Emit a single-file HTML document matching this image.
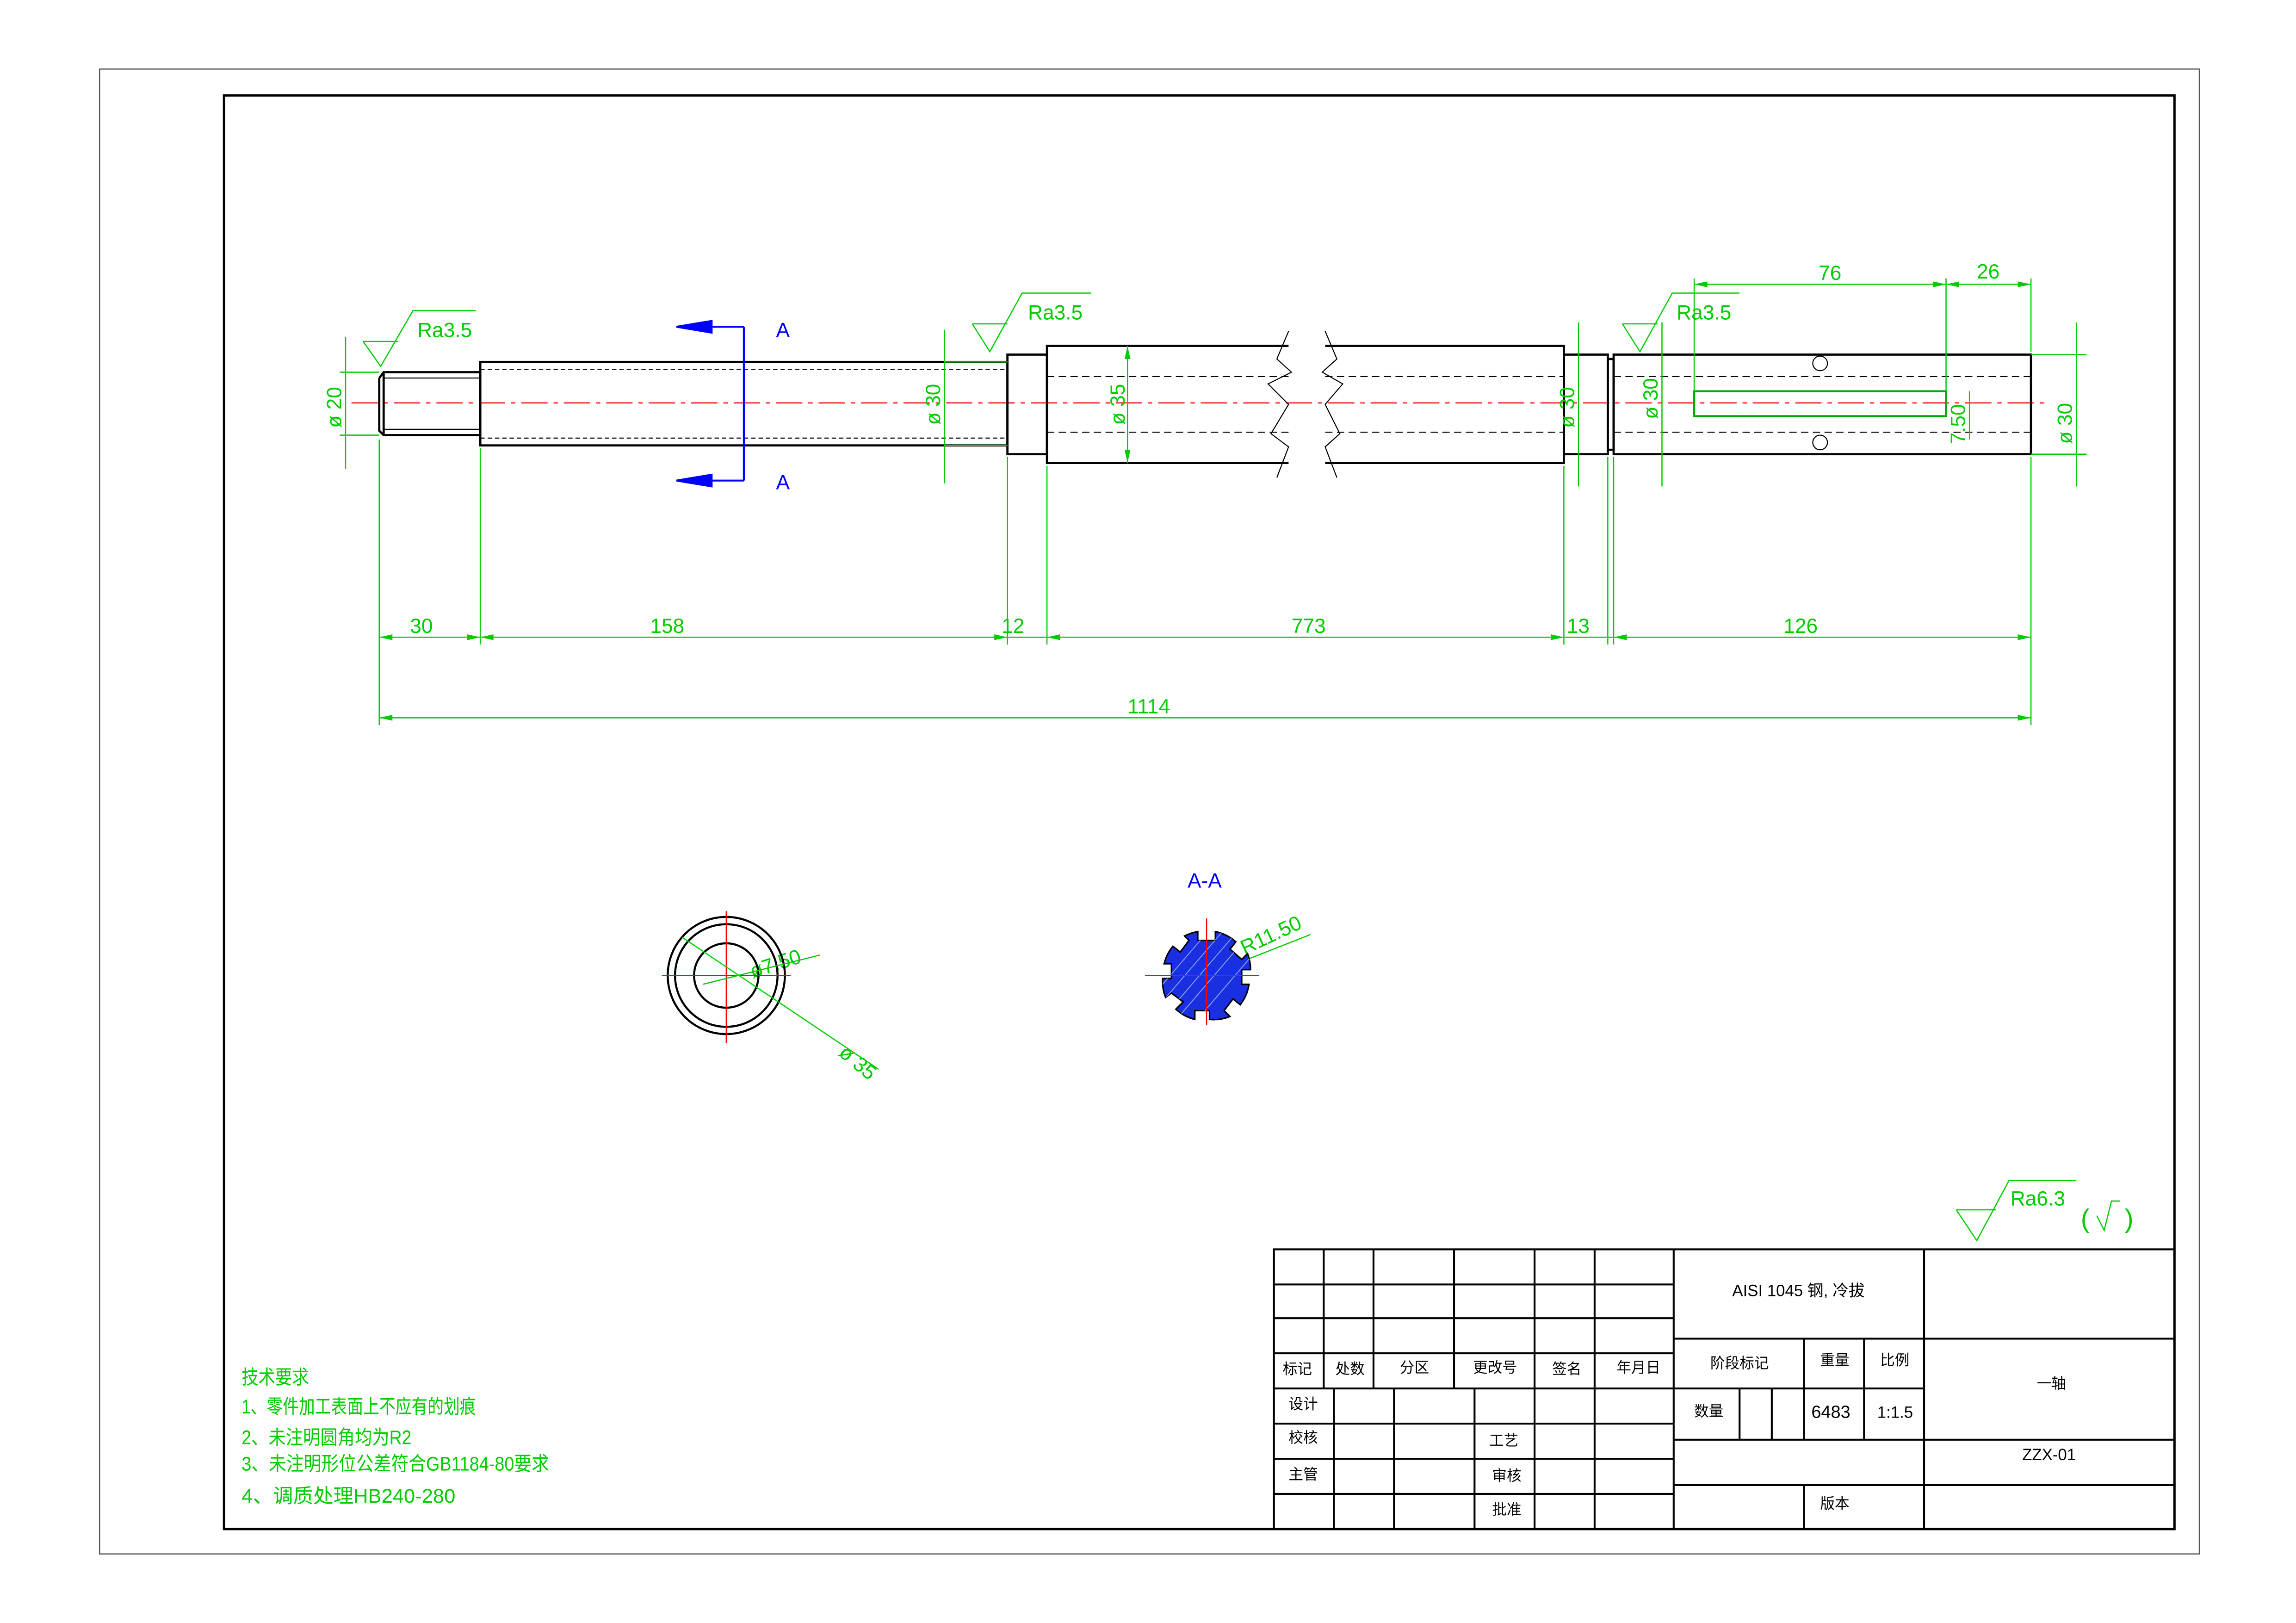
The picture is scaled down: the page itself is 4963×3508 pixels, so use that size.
<!DOCTYPE html>
<html><head><meta charset="utf-8"><style>
html,body{margin:0;padding:0;background:#fff}
svg{display:block}
text{font-family:"Liberation Sans","Noto Sans CJK SC",sans-serif}
</style></head><body>
<svg width="4963" height="3508" viewBox="0 0 1568 1108" xmlns="http://www.w3.org/2000/svg">
<rect x="68" y="47" width="1434" height="1014" fill="none" stroke="#555" stroke-width="0.8"/>
<rect x="153" y="65" width="1332" height="979" fill="none" stroke="#000" stroke-width="1.6"/>

<line x1="240" y1="275" x2="1400" y2="275" stroke="#f00" stroke-width="0.8" stroke-dasharray="18,4,3,4"/>

<g fill="none" stroke="#000" stroke-width="1.5">
<path d="M259,258 L262,254 L328,254 M259,258 L259,294 L262,297 L328,297"/>
<line x1="262" y1="254" x2="262" y2="297"/>
<rect x="328" y="247" width="360" height="57"/>
<rect x="688" y="242" width="27" height="68"/>
<path d="M880,236 L715,236 L715,316 L880,316"/>
<path d="M905,236 L1068,236 L1068,316 L905,316"/>
<rect x="1068" y="242" width="30" height="68"/>
<rect x="1098" y="245" width="4" height="62"/>
<rect x="1102" y="242" width="285" height="68"/>
</g>
<g fill="none" stroke="#000" stroke-width="0.7">
<line x1="262" y1="258" x2="328" y2="258"/><line x1="262" y1="293" x2="328" y2="293"/>
<line x1="328" y1="252" x2="688" y2="252" stroke-dasharray="3,2"/>
<line x1="328" y1="299" x2="688" y2="299" stroke-dasharray="3,2"/>
<line x1="715" y1="257" x2="880" y2="257" stroke-dasharray="5,3"/>
<line x1="715" y1="295" x2="880" y2="295" stroke-dasharray="5,3"/>
<line x1="905" y1="257" x2="1068" y2="257" stroke-dasharray="5,3"/>
<line x1="905" y1="295" x2="1068" y2="295" stroke-dasharray="5,3"/>
<line x1="1102" y1="257" x2="1387" y2="257" stroke-dasharray="5,3"/>
<line x1="1102" y1="295" x2="1387" y2="295" stroke-dasharray="5,3"/>
<path d="M880,226 L872,245 L882,254 L866,262 L880,276 L868,296 L880,305 L872,326"/>
<path d="M905,226 L913,245 L903,254 L917,262 L905,276 L915,296 L905,305 L913,326"/>
<circle cx="1243" cy="248" r="5"/><circle cx="1243" cy="302" r="5"/>
</g>
<rect x="1157" y="267" width="172" height="17" fill="none" stroke="#0a0" stroke-width="1.3"/>

<g stroke="#00f" stroke-width="1.3" fill="#00f">
<line x1="508" y1="223" x2="508" y2="328"/>
<line x1="470" y1="223" x2="508" y2="223"/><line x1="470" y1="328" x2="508" y2="328"/>
<polygon points="462,223 486,219 486,227"/><polygon points="462,328 486,324 486,332"/>
</g>
<g fill="#00f" font-size="14"><text x="530" y="230">A</text><text x="530" y="334">A</text><text x="811" y="606">A-A</text></g>

<g stroke="#0c0" stroke-width="0.8" fill="none">
<line x1="259" y1="300" x2="259" y2="495"/><line x1="328" y1="306" x2="328" y2="440"/>
<line x1="688" y1="312" x2="688" y2="440"/><line x1="715" y1="318" x2="715" y2="440"/>
<line x1="1068" y1="318" x2="1068" y2="440"/><line x1="1098" y1="312" x2="1098" y2="440"/>
<line x1="1102" y1="312" x2="1102" y2="440"/><line x1="1387" y1="312" x2="1387" y2="495"/>
<line x1="259" y1="435" x2="1387" y2="435"/>
<line x1="259" y1="490" x2="1387" y2="490"/>
<line x1="1157" y1="190" x2="1157" y2="267"/><line x1="1329" y1="190" x2="1329" y2="267"/>
<line x1="1387" y1="190" x2="1387" y2="240"/>
<line x1="1157" y1="194" x2="1387" y2="194"/>
<line x1="232" y1="254" x2="259" y2="254"/><line x1="232" y1="297" x2="259" y2="297"/>
<line x1="236" y1="230" x2="236" y2="320"/>
<line x1="645" y1="247" x2="688" y2="247"/><line x1="645" y1="304" x2="688" y2="304"/>
<line x1="645" y1="225" x2="645" y2="330"/>
<line x1="770" y1="236" x2="770" y2="316"/>
<line x1="1078" y1="220" x2="1078" y2="332"/>
<line x1="1135" y1="220" x2="1135" y2="332"/>
<line x1="1345" y1="267" x2="1345" y2="300"/>
<line x1="1387" y1="242" x2="1425" y2="242"/><line x1="1387" y1="310" x2="1425" y2="310"/>
<line x1="1418" y1="220" x2="1418" y2="332"/>
<path d="M248,233 L260,250 L282,212 L325,212"/><line x1="248" y1="233" x2="272" y2="233"/>
<path d="M664,221 L676,240 L698,200 L745,200"/><line x1="664" y1="221" x2="688" y2="221"/>
<path d="M1108,221 L1120,240 L1142,200 L1188,200"/><line x1="1108" y1="221" x2="1132" y2="221"/>
<path d="M1336,826 L1350,847 L1372,806 L1418,806"/><line x1="1336" y1="826" x2="1363" y2="826"/>
<path d="M1432,830 L1437,840 L1442,820 L1448,820"/>
</g>
<g fill="#0c0">
<polygon points="259,435 268,433 268,437"/><polygon points="328,435 319,433 319,437"/><polygon points="328,435 337,433 337,437"/>
<polygon points="688,435 679,433 679,437"/><polygon points="715,435 724,433 724,437"/><polygon points="1068,435 1059,433 1059,437"/>
<polygon points="1102,435 1111,433 1111,437"/><polygon points="1387,435 1378,433 1378,437"/>
<polygon points="259,490 268,488 268,492"/><polygon points="1387,490 1378,488 1378,492"/>
<polygon points="1157,194 1166,192 1166,196"/><polygon points="1329,194 1320,192 1320,196"/>
<polygon points="1329,194 1338,192 1338,196"/><polygon points="1387,194 1378,192 1378,196"/>
<polygon points="770,236 768,245 772,245"/><polygon points="770,316 768,307 772,307"/>
</g>
<g fill="#0c0" font-size="14">
<text x="280" y="432">30</text><text x="444" y="432">158</text><text x="684" y="432">12</text>
<text x="882" y="432">773</text><text x="1070" y="432">13</text><text x="1218" y="432">126</text>
<text x="770" y="487">1114</text><text x="1242" y="191">76</text><text x="1350" y="190">26</text>
<text x="285" y="230">Ra3.5</text><text x="702" y="218">Ra3.5</text><text x="1145" y="218">Ra3.5</text>
<text x="1373" y="823">Ra6.3</text><text x="1421" y="838" font-size="18">(</text><text x="1451" y="838" font-size="18">)</text>
<text transform="translate(233,292) rotate(-90)">ø 20</text>
<text transform="translate(642,290) rotate(-90)">ø 30</text>
<text transform="translate(768,290) rotate(-90)">ø 35</text>
<text transform="translate(1075,292) rotate(-90)">ø 30</text>
<text transform="translate(1132,286) rotate(-90)">ø 30</text>
<text transform="translate(1342,303) rotate(-90)">7.50</text>
<text transform="translate(1415,303) rotate(-90)">ø 30</text>
<text transform="translate(514,668) rotate(-18)">ø7.50</text>
<text transform="translate(572,720) rotate(40)">ø 35</text>
<text transform="translate(850,652) rotate(-25)">R11.50</text>
</g>

<g fill="none" stroke="#000" stroke-width="1.4">
<circle cx="496" cy="666" r="40"/><circle cx="496" cy="666" r="35"/><circle cx="496" cy="666" r="22"/>
</g>
<g stroke="#f00" stroke-width="0.8"><line x1="452" y1="666" x2="540" y2="666"/><line x1="496" y1="622" x2="496" y2="712"/></g>
<g stroke="#0c0" stroke-width="0.8"><line x1="466" y1="640" x2="600" y2="730"/><line x1="480" y1="672" x2="560" y2="652"/><line x1="824" y1="666" x2="895" y2="638"/></g>

<clipPath id="ac"><path id="ap" d="M818,636 L818,642 L830,642 L830,636 A30,30 0 0 1 844,643 L840,648 L848,655 L852,651 A30,30 0 0 1 854,662 L848,662 L848,672 L853,672 A30,30 0 0 1 847,686 L842,682 L836,690 L840,694 A30,30 0 0 1 826,696 L826,690 L816,690 L816,696 A30,30 0 0 1 803,689 L808,684 L800,678 L796,681 A30,30 0 0 1 794,668 L800,668 L800,658 L795,658 A30,30 0 0 1 801,646 L806,650 L812,642 L809,639 A30,30 0 0 1 818,636 Z"/></clipPath>
<use href="#ap" fill="#1a2fe0" stroke="#000" stroke-width="1"/>
<g clip-path="url(#ac)" stroke="#8fa0ff" stroke-width="0.6">
<line x1="790" y1="700" x2="850" y2="630"/><line x1="800" y1="700" x2="860" y2="630"/><line x1="780" y1="700" x2="840" y2="630"/><line x1="810" y1="705" x2="870" y2="635"/><line x1="770" y1="700" x2="830" y2="630"/>
</g>
<g stroke="#f00" stroke-width="0.8"><line x1="782" y1="666" x2="860" y2="666"/><line x1="824" y1="627" x2="824" y2="700"/></g>

<g fill="#0c0" font-size="13.5">
<text x="165" y="945" textLength="46" lengthAdjust="spacingAndGlyphs">技术要求</text>
<text x="165" y="965" textLength="160" lengthAdjust="spacingAndGlyphs">1、零件加工表面上不应有的划痕</text>
<text x="165" y="986" textLength="116" lengthAdjust="spacingAndGlyphs">2、未注明圆角均为R2</text>
<text x="165" y="1004" textLength="210" lengthAdjust="spacingAndGlyphs">3、未注明形位公差符合GB1184-80要求</text>
<text x="165" y="1026" textLength="146" lengthAdjust="spacingAndGlyphs">4、调质处理HB240-280</text>
</g>

<g stroke="#000" stroke-width="1.3" fill="none">
<rect x="870" y="853" width="615" height="191"/>
<line x1="870" y1="877" x2="1143" y2="877"/><line x1="870" y1="900" x2="1143" y2="900"/>
<line x1="870" y1="924" x2="1143" y2="924"/><line x1="870" y1="948" x2="1143" y2="948"/>
<line x1="870" y1="972" x2="1143" y2="972"/><line x1="870" y1="996" x2="1143" y2="996"/>
<line x1="870" y1="1020" x2="1143" y2="1020"/>
<line x1="904" y1="853" x2="904" y2="948"/><line x1="938" y1="853" x2="938" y2="948"/>
<line x1="993" y1="853" x2="993" y2="948"/><line x1="1048" y1="853" x2="1048" y2="1044"/>
<line x1="1089" y1="853" x2="1089" y2="1044"/><line x1="1143" y1="853" x2="1143" y2="1044"/>
<line x1="911" y1="948" x2="911" y2="1044"/><line x1="952" y1="948" x2="952" y2="1044"/>
<line x1="1007" y1="948" x2="1007" y2="1044"/>
<line x1="1314" y1="853" x2="1314" y2="1044"/>
<line x1="1143" y1="914" x2="1485" y2="914"/><line x1="1143" y1="983" x2="1485" y2="983"/>
<line x1="1143" y1="1014" x2="1485" y2="1014"/><line x1="1143" y1="948" x2="1314" y2="948"/>
<line x1="1232" y1="914" x2="1232" y2="983"/><line x1="1273" y1="914" x2="1273" y2="983"/>
<line x1="1188" y1="948" x2="1188" y2="983"/><line x1="1210" y1="948" x2="1210" y2="983"/>
<line x1="1232" y1="1014" x2="1232" y2="1044"/>
</g>
<g fill="#000" font-size="10">
<text x="876" y="938">标记</text><text x="912" y="938">处数</text><text x="956" y="937">分区</text>
<text x="1006" y="937">更改号</text><text x="1060" y="938">签名</text><text x="1104" y="937">年月日</text>
<text x="880" y="962">设计</text><text x="880" y="985">校核</text><text x="1017" y="987">工艺</text>
<text x="880" y="1010">主管</text><text x="1019" y="1011">审核</text><text x="1019" y="1034">批准</text>
<text x="1183" y="885" font-size="11">AISI 1045 钢, 冷拔</text>
<text x="1168" y="934">阶段标记</text><text x="1243" y="932">重量</text><text x="1284" y="932">比例</text>
<text x="1157" y="967">数量</text><text x="1237" y="968" font-size="12">6483</text><text x="1282" y="968" font-size="11">1:1.5</text>
<text x="1391" y="948">一轴</text><text x="1381" y="997" font-size="11">ZZX-01</text><text x="1243" y="1030">版本</text>
</g>
</svg>
</body></html>
